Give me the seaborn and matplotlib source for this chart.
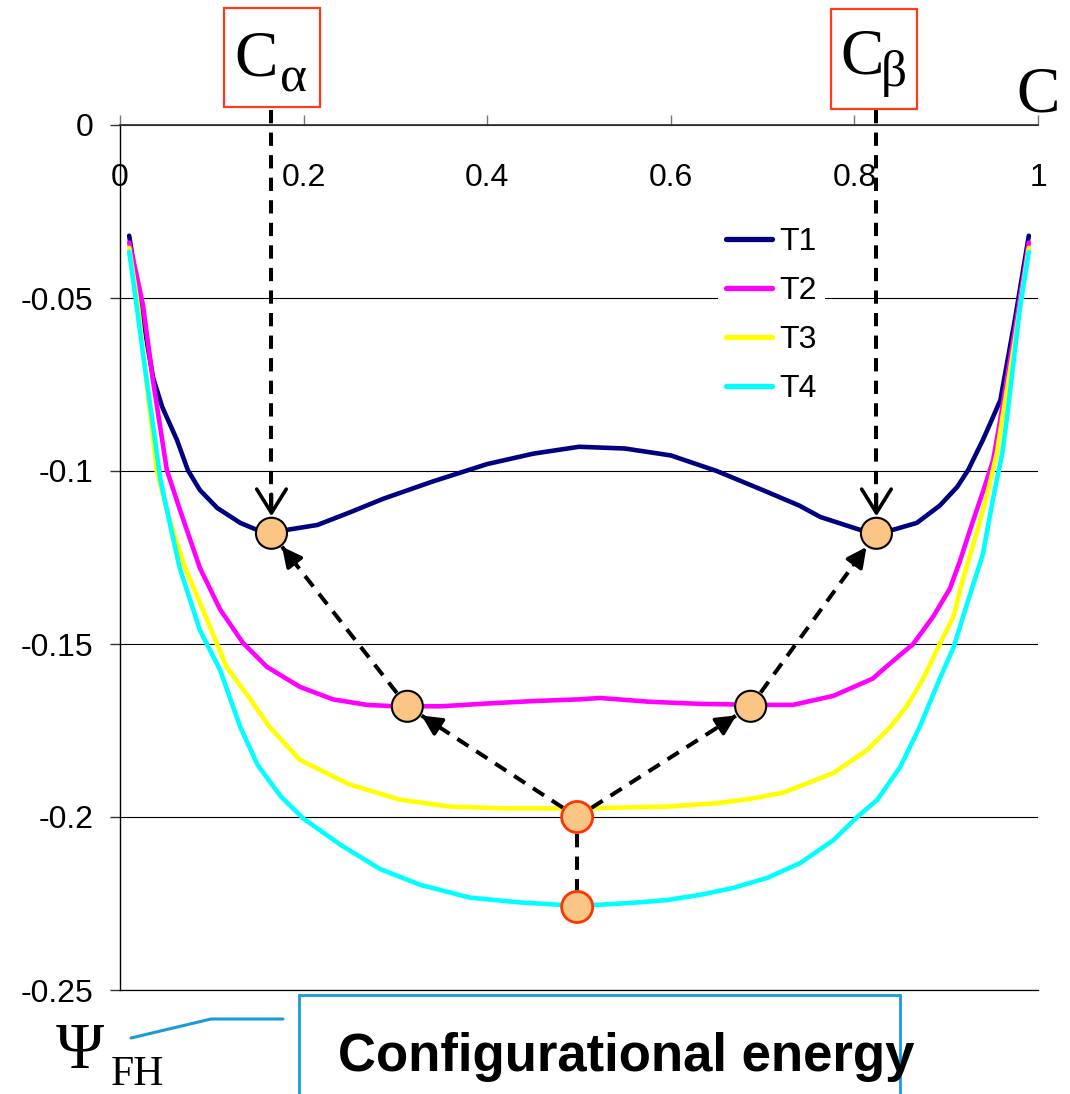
import numpy as np
import pandas as pd
import matplotlib
matplotlib.use("Agg")
import matplotlib.pyplot as plt
import seaborn as sns
from matplotlib.lines import Line2D
from matplotlib.patches import Rectangle

# ---------------- data ----------------
series_names = ["T1", "T2", "T3", "T4"]
series_colors = ["#000080", "#FF00FF", "#FFFF00", "#00FFFF"]

T1_x = [0.01, 0.016, 0.025, 0.036, 0.046, 0.062, 0.074, 0.087, 0.106, 0.131, 0.149, 0.165, 0.182, 0.215,
        0.25, 0.287, 0.341, 0.40, 0.45, 0.50, 0.55, 0.60, 0.65, 0.70, 0.74, 0.763, 0.806, 0.842, 0.868,
        0.893, 0.912, 0.924, 0.940, 0.95, 0.959, 0.975, 0.99]
T1_y = [-0.032, -0.042, -0.056, -0.073, -0.0815, -0.091, -0.0998, -0.1055, -0.1107, -0.115, -0.117, -0.118,
        -0.117, -0.1156, -0.112, -0.108, -0.103, -0.098, -0.095, -0.093, -0.0935, -0.0955, -0.100, -0.1055,
        -0.110, -0.1133, -0.117, -0.117, -0.115, -0.110, -0.1046, -0.0997, -0.091, -0.085, -0.0795, -0.056,
        -0.032]

T2_x = [0.01, 0.017, 0.025, 0.036, 0.051, 0.065, 0.087, 0.109, 0.134, 0.16, 0.196, 0.232, 0.269, 0.30,
        0.35, 0.40, 0.45, 0.50, 0.523, 0.577, 0.632, 0.70, 0.733, 0.777, 0.82, 0.835, 0.864, 0.886, 0.904,
        0.915, 0.926, 0.94, 0.951, 0.959, 0.975, 0.99]
T2_y = [-0.034, -0.042, -0.052, -0.074, -0.0997, -0.111, -0.128, -0.140, -0.1497, -0.1566, -0.1624, -0.166,
        -0.1676, -0.168, -0.168, -0.1672, -0.1665, -0.166, -0.1656, -0.1667, -0.1673, -0.1676, -0.1676,
        -0.165, -0.160, -0.1565, -0.150, -0.142, -0.134, -0.126, -0.117, -0.106, -0.097, -0.085, -0.059,
        -0.034]

T3_x = [0.01, 0.02, 0.03, 0.04, 0.055, 0.071, 0.087, 0.116, 0.142, 0.163, 0.196, 0.25, 0.305, 0.36, 0.42,
        0.48, 0.523, 0.596, 0.65, 0.686, 0.722, 0.777, 0.814, 0.839, 0.857, 0.875, 0.893, 0.908, 0.918,
        0.933, 0.944, 0.955, 0.961, 0.975, 0.99]
T3_y = [-0.0355, -0.053, -0.077, -0.1, -0.115, -0.128, -0.138, -0.1566, -0.166, -0.174, -0.1835, -0.1906,
        -0.195, -0.197, -0.1975, -0.1975, -0.1974, -0.197, -0.196, -0.1948, -0.193, -0.1873, -0.1806,
        -0.174, -0.168, -0.160, -0.150, -0.142, -0.1315, -0.118, -0.1075, -0.095, -0.085, -0.062, -0.0355]

T4_x = [0.01, 0.017, 0.025, 0.035, 0.044, 0.055, 0.065, 0.087, 0.109, 0.131, 0.15, 0.175, 0.20, 0.24,
        0.283, 0.327, 0.381, 0.436, 0.50, 0.559, 0.596, 0.632, 0.668, 0.705, 0.741, 0.777, 0.803, 0.825,
        0.85, 0.871, 0.893, 0.908, 0.922, 0.94, 0.951, 0.961, 0.966, 0.98, 0.99]
T4_y = [-0.0367, -0.05, -0.066, -0.085, -0.1026, -0.116, -0.128, -0.146, -0.1575, -0.174, -0.185, -0.194,
        -0.2005, -0.208, -0.215, -0.2196, -0.2233, -0.2247, -0.2257, -0.2248, -0.224, -0.2225, -0.2205,
        -0.2176, -0.2133, -0.2067, -0.200, -0.195, -0.1855, -0.174, -0.160, -0.151, -0.139, -0.124, -0.108,
        -0.095, -0.085, -0.0535, -0.0367]

# equilibrium points (circles)
pts_x = [0.165, 0.824, 0.313, 0.687, 0.498, 0.498]
pts_y = [-0.118, -0.118, -0.168, -0.168, -0.200, -0.226]

x_ticks = [0, 0.2, 0.4, 0.6, 0.8, 1]
x_ticklabels = ["0", "0.2", "0.4", "0.6", "0.8", "1"]
y_ticks = [0, -0.05, -0.1, -0.15, -0.2, -0.25]
y_ticklabels = ["0", "-0.05", "-0.1", "-0.15", "-0.2", "-0.25"]

# ---------------- figure ----------------
sns.set_style("white")
plt.rcParams["font.family"] = ["Liberation Sans", "DejaVu Sans"]
plt.rcParams["text.color"] = "black"
plt.rcParams["xtick.labelcolor"] = "black"
plt.rcParams["ytick.labelcolor"] = "black"

W, H = 1070, 1094
fig = plt.figure(figsize=(W / 100, H / 100), dpi=100)
fx = lambda px: px / W
fy = lambda py: 1 - py / H

ax = fig.add_axes([fx(120), fy(990), 918 / W, 865 / H])

frames = []
for name, xs, ys in zip(series_names, [T1_x, T2_x, T3_x, T4_x], [T1_y, T2_y, T3_y, T4_y]):
    frames.append(pd.DataFrame({"c": xs, "psi": ys, "T": name}))
df = pd.concat(frames, ignore_index=True)

palette = dict(zip(series_names, series_colors))
sns.lineplot(data=df, x="c", y="psi", hue="T", palette=palette, estimator=None, sort=False,
             lw=3.3, ax=ax, legend=False, zorder=2)

ax.set_xlim(0, 1)
ax.set_ylim(-0.25, 0)
ax.autoscale(False)
ax.set_xlabel("")
ax.set_ylabel("")

# spines
ax.spines["right"].set_visible(False)
ax.spines["bottom"].set_color("black")
ax.spines["bottom"].set_linewidth(0.9)
ax.spines["left"].set_color("black")
ax.spines["left"].set_linewidth(1.0)
ax.spines["top"].set_color("#333333")
ax.spines["top"].set_linewidth(1.3)

# grid
ax.set_yticks(y_ticks)
ax.set_yticklabels(y_ticklabels)
ax.yaxis.grid(True, color="black", lw=0.8)
ax.xaxis.grid(False)
ax.set_axisbelow(True)

ax.set_xticks(x_ticks)
ax.set_xticklabels(x_ticklabels)
ax.xaxis.set_ticks_position("top")
ax.tick_params(axis="x", which="both", top=True, bottom=False, labeltop=True, labelbottom=False,
               direction="out", length=7, width=1, color="#777777", pad=-56, labelsize=23)
ax.tick_params(axis="y", left=True, direction="out", length=7, width=1, color="#333333",
               pad=12, labelsize=23)

# ---------------- arrows ----------------
def to_data(P):
    return ax.transData.inverted().transform(P)

def disp(xd, yd):
    return np.array(ax.transData.transform((xd, yd)), float)

def dashed_arrow(P0, P1, head=None, s0=0.0, s1=0.0, ms=30):
    P0 = np.asarray(P0, float)
    P1 = np.asarray(P1, float)
    u = (P1 - P0) / np.linalg.norm(P1 - P0)
    A = P0 + u * s0
    B = P1 - u * s1
    a = to_data(A)
    b = to_data(B)
    ax.plot([a[0], b[0]], [a[1], b[1]], color="black", lw=2.9, ls=(0, (3.3, 2.3)),
            clip_on=False, zorder=3, dash_capstyle="butt")
    if head:
        c = to_data(B - u * 22)
        ax.annotate("", xy=b, xytext=c,
                    arrowprops=dict(arrowstyle=head, color="black", lw=2.6, shrinkA=0, shrinkB=0,
                                    mutation_scale=ms),
                    annotation_clip=False, zorder=4)

r = 17  # marker radius in pixels (+ gap)
P = [disp(x, y) for x, y in zip(pts_x, pts_y)]
top_alpha = np.array([P[0][0], H - 110.0])
top_beta = np.array([P[1][0], H - 110.0])
open_head = "->,head_length=0.45,head_width=0.28"
fill_head = "-|>,head_length=0.6,head_width=0.3"

dashed_arrow(top_alpha, P[0], head=open_head, s1=r, ms=38)
dashed_arrow(top_beta, P[1], head=open_head, s1=r, ms=38)
dashed_arrow(P[4], P[2], head=fill_head, s0=r, s1=r, ms=20)
dashed_arrow(P[4], P[3], head=fill_head, s0=r, s1=r, ms=20)
dashed_arrow(P[2], P[0], head=fill_head, s0=r, s1=r, ms=20)
dashed_arrow(P[3], P[1], head=fill_head, s0=r, s1=r, ms=20)
dashed_arrow(P[4], P[5], head=None, s0=r, s1=r)

# markers
ax.scatter(pts_x, pts_y, s=500, facecolor="#FAC585",
           edgecolors=["black", "black", "black", "black", "#FF3300", "#FF3300"],
           linewidths=[1.5, 1.5, 1.5, 1.5, 2.0, 2.0], zorder=6, clip_on=False)

# legend
handles = [Line2D([], [], color=c, lw=3.8, solid_capstyle="round") for c in series_colors]
leg = ax.legend(handles, series_names, loc="upper left", bbox_to_anchor=(fx(718), fy(219)),
                bbox_transform=fig.transFigure, frameon=True, facecolor="white", edgecolor="none",
                framealpha=1, fancybox=False, fontsize=23, handlelength=1.45, handletextpad=0.22,
                labelspacing=0.6, borderpad=0.25, borderaxespad=0)

# ---------------- annotations ----------------
serif = ["Liberation Serif", "DejaVu Serif"]
box_red = "#FF3B1A"
fig.patches.append(Rectangle((fx(224), fy(107)), 96 / W, 99 / H, transform=fig.transFigure,
                             fill=False, edgecolor=box_red, lw=1.6))
fig.patches.append(Rectangle((fx(831), fy(109)), 86 / W, 100 / H, transform=fig.transFigure,
                             fill=False, edgecolor=box_red, lw=1.6))
fig.text(fx(234), fy(75), "C", family=serif, fontsize=47, ha="left", va="baseline", color="black")
fig.text(fx(280), fy(92), "α", family=serif, fontsize=37, ha="left", va="baseline", color="black")
fig.text(fx(840), fy(73), "C", family=serif, fontsize=47, ha="left", va="baseline", color="black")
fig.text(fx(881), fy(86), "β", family=serif, fontsize=37, ha="left", va="baseline", color="black")
fig.text(fx(1016), fy(112), "C", family=serif, fontsize=47, ha="left", va="baseline", color="black")

fig.text(fx(56), fy(1068), "Ψ", family=serif, fontsize=47, ha="left", va="baseline", color="black")
fig.text(fx(111), fy(1085), "FH", family=serif, fontsize=30, ha="left", va="baseline", color="black")

blue = "#1A9AD6"
fig.lines.append(Line2D([fx(131), fx(211), fx(283)], [fy(1038), fy(1019), fy(1019)],
                        transform=fig.transFigure, color=blue, lw=2.2))
fig.patches.append(Rectangle((fx(299), fy(1110)), 601 / W, 115 / H, transform=fig.transFigure,
                             fill=False, edgecolor=blue, lw=2.0))
fig.text(fx(338), fy(1071), "Configurational energy", fontsize=38, fontweight="bold",
         ha="left", va="baseline", color="black")

fig.savefig("out.png", dpi=100)
